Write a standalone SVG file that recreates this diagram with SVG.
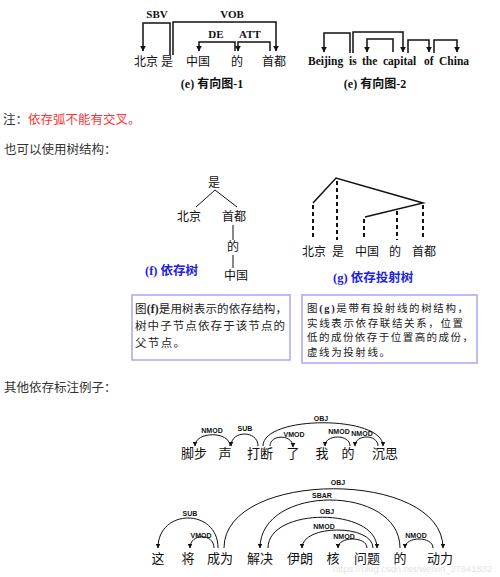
<svg xmlns="http://www.w3.org/2000/svg" width="500" height="577" viewBox="0 0 500 577">
<defs>
<marker id="ah" viewBox="0 0 10 10" refX="9" refY="5" markerWidth="6" markerHeight="6" markerUnits="userSpaceOnUse" orient="auto">
<path d="M0,0 L10,5 L0,10 z" fill="#111"/>
</marker>
<marker id="as" viewBox="0 0 10 10" refX="9" refY="5" markerWidth="5" markerHeight="5" markerUnits="userSpaceOnUse" orient="auto">
<path d="M0,0 L10,5 L0,10 z" fill="#111"/>
</marker>
</defs>
<style>
.prose{font-family:"Noto Sans CJK SC",sans-serif;font-size:12.5px;fill:#333}
.w{font-family:"Noto Sans CJK SC",sans-serif;font-size:12px;fill:#111}
.en{font-family:"Liberation Serif","Noto Sans CJK SC",serif;font-weight:bold;font-size:11.5px;fill:#111}
.lab{font-family:"Liberation Serif",serif;font-weight:bold;font-size:11px;fill:#111;text-anchor:middle}
.cap{font-family:"Liberation Serif","Noto Sans CJK SC",serif;font-weight:bold;font-size:12px;fill:#111;text-anchor:middle}
.blue{font-family:"Liberation Serif","Noto Sans CJK SC",serif;font-weight:bold;font-size:12.5px;fill:#2222dd}
.box{fill:none;stroke:#a8a8f0;stroke-width:1.5}
.bt{font-family:"Noto Sans CJK SC",sans-serif;font-size:11.5px;fill:#222}
.bt2{font-family:"Noto Sans CJK SC",sans-serif;font-size:10.5px;fill:#222}
.s{font-family:"Liberation Serif",serif;font-weight:bold}
.br{fill:none;stroke:#111;stroke-width:1.5}
.arc{fill:none;stroke:#111;stroke-width:1}
.sl{fill:none;stroke:#111;stroke-width:1.5}
.dl{fill:none;stroke:#111;stroke-width:2;stroke-dasharray:4,3}
.dep{font-family:"Liberation Sans",Arial,sans-serif;font-weight:bold;font-size:7px;fill:#111;text-anchor:middle}
.ex{font-family:"Noto Sans CJK SC",sans-serif;font-size:13px;fill:#111;text-anchor:middle}
.wm{font-family:"Liberation Sans",sans-serif;font-size:9.5px;fill:#e4e4e4}
</style>

<!-- Figure (e)-1 -->
<g id="fig-e1">
<text class="w" x="134" y="66">北京</text>
<text class="w" x="161" y="66">是</text>
<text class="w" x="186" y="66">中国</text>
<text class="w" x="231" y="66">的</text>
<text class="w" x="262" y="66">首都</text>
<text class="lab" x="157" y="18">SBV</text>
<text class="lab" x="232" y="18">VOB</text>
<text class="lab" x="216" y="38">DE</text>
<text class="lab" x="250" y="38">ATT</text>
<text class="cap" x="212" y="88">(e) 有向图-1</text>
</g>
<g id="edges-e1">
<path class="br" d="M170,55 V23 H143 V51" marker-end="url(#ah)"/>
<path class="br" d="M173,55 V22 H276 V51" marker-end="url(#ah)"/>
<path class="br" d="M235,51 V42 H199 V51" marker-end="url(#ah)"/>
<path class="br" d="M270,51 V42 H238 V51" marker-end="url(#ah)"/>
</g>

<!-- Figure (e)-2 -->
<g id="fig-e2">
<text class="en" x="308" y="65">Beijing</text>
<text class="en" x="349" y="65">is</text>
<text class="en" x="362" y="65">the</text>
<text class="en" x="383" y="65">capital</text>
<text class="en" x="424" y="65">of</text>
<text class="en" x="439" y="65">China</text>
<text class="cap" x="375" y="88">(e) 有向图-2</text>
</g>
<g id="edges-e2">
<path class="br" d="M350,53 V33 H324 V52" marker-end="url(#ah)"/>
<path class="br" d="M353,53 V32 H403 V52" marker-end="url(#ah)"/>
<path class="br" d="M393,52 V39 H367 V52" marker-end="url(#ah)"/>
<path class="br" d="M408,53 V40 H429 V52" marker-end="url(#ah)"/>
<path class="br" d="M434,53 V40 H457 V52" marker-end="url(#ah)"/>
</g>

<!-- Notes -->
<text class="prose" x="3" y="124">注：<tspan fill="#ff3333">依存弧不能有交叉。</tspan></text>
<text class="prose" x="4" y="154">也可以使用树结构：</text>

<!-- Tree (f) -->
<g id="tree-f">
<text class="w" x="214" y="187" text-anchor="middle" font-size="12.5">是</text>
<text class="w" x="189" y="221" text-anchor="middle" font-size="12.5">北京</text>
<text class="w" x="234" y="221" text-anchor="middle" font-size="12.5">首都</text>
<text class="w" x="233" y="251" text-anchor="middle" font-size="12.5">的</text>
<text class="w" x="236" y="280" text-anchor="middle" font-size="12.5">中国</text>
<path class="arc" d="M196,207 L215,190 L237,207 M233,225 V240 M233,255 V268" stroke-width="1.3"/>
<text class="blue" x="145" y="275">(f) 依存树</text>
</g>

<!-- Tree (g) -->
<g id="tree-g">
<text class="w" x="314" y="256" text-anchor="middle" font-size="12.5">北京</text>
<text class="w" x="338" y="256" text-anchor="middle" font-size="12.5">是</text>
<text class="w" x="367" y="256" text-anchor="middle" font-size="12.5">中国</text>
<text class="w" x="395" y="256" text-anchor="middle" font-size="12.5">的</text>
<text class="w" x="424" y="256" text-anchor="middle" font-size="12.5">首都</text>
<path class="sl" d="M313,203 L336,178 L423,203 L365,217"/>
<path class="dl" d="M313,205 V240 M337,181 V240 M364,219 V240 M397,211 V240 M423,205 V240"/>
<text class="blue" x="333" y="282">(g) 依存投射树</text>
</g>

<!-- Box f -->
<g id="box-f">
<rect class="box" x="132" y="295" width="158" height="65"/>
<text class="bt" x="135" y="313" textLength="152" lengthAdjust="spacing">图<tspan class="s">(f)</tspan>是用树表示的依存结构，</text>
<text class="bt" x="135" y="330" textLength="150" lengthAdjust="spacing">树中子节点依存于该节点的</text>
<text class="bt" x="135" y="347" textLength="50" lengthAdjust="spacing">父节点。</text>
</g>

<!-- Box g -->
<g id="box-g">
<rect class="box" x="302" y="295" width="175" height="68"/>
<text class="bt2" x="307" y="312" textLength="161" lengthAdjust="spacing">图<tspan class="s">(g)</tspan>是带有投射线的树结构，</text>
<text class="bt2" x="307" y="326.5" textLength="156" lengthAdjust="spacing">实线表示依存联结关系，位置</text>
<text class="bt2" x="307" y="341" textLength="166" lengthAdjust="spacing">低的成份依存于位置高的成份，</text>
<text class="bt2" x="307" y="355.5" textLength="83" lengthAdjust="spacing">虚线为投射线。</text>
</g>

<text class="prose" x="4" y="392">其他依存标注例子：</text>

<!-- Example 1 -->
<g id="ex1-words">
<text class="ex" x="194" y="458">脚步</text>
<text class="ex" x="225" y="458">声</text>
<text class="ex" x="260" y="458">打断</text>
<text class="ex" x="293" y="458">了</text>
<text class="ex" x="322" y="458">我</text>
<text class="ex" x="348" y="458">的</text>
<text class="ex" x="385" y="458">沉思</text>
</g>
<g id="ex1-edges">
<path class="arc" d="M230,446 C230,431 195,431 195,446" marker-end="url(#as)"/>
<path class="arc" d="M258,446 C258,430 231,430 231,446" marker-end="url(#as)"/>
<path class="arc" d="M270,446 C270,434 293,434 293,447" marker-end="url(#as)"/>
<path class="arc" d="M263,446 C263,415 383,415 383,446" marker-end="url(#as)"/>
<path class="arc" d="M350,446 C350,434 325,434 325,446" marker-end="url(#as)"/>
<path class="arc" d="M378,446 C378,434 355,434 355,446" marker-end="url(#as)"/>
<text class="dep" x="212" y="433">NMOD</text>
<text class="dep" x="245" y="431">SUB</text>
<text class="dep" x="294" y="437">VMOD</text>
<text class="dep" x="321" y="421">OBJ</text>
<text class="dep" x="339" y="434">NMOD</text>
<text class="dep" x="362" y="436">NMOD</text>
</g>

<!-- Example 2 -->
<g id="ex2-words">
<text class="ex" x="158" y="563">这</text>
<text class="ex" x="188" y="563">将</text>
<text class="ex" x="220" y="563">成为</text>
<text class="ex" x="260" y="563">解决</text>
<text class="ex" x="300" y="563">伊朗</text>
<text class="ex" x="333" y="563">核</text>
<text class="ex" x="367" y="563">问题</text>
<text class="ex" x="400" y="563">的</text>
<text class="ex" x="440" y="563">动力</text>
</g>
<g id="ex2-edges">
<path class="arc" d="M218,548 C218,508 158,508 158,548" marker-end="url(#as)"/>
<path class="arc" d="M214,548 C214,533 190,533 190,548" marker-end="url(#as)"/>
<path class="arc" d="M224,548 C224,469 443,469 443,548" marker-end="url(#as)"/>
<path class="arc" d="M400,548 C400,484 260,484 260,548" marker-end="url(#as)"/>
<path class="arc" d="M268,548 C268,507 377,507 377,548" marker-end="url(#as)"/>
<path class="arc" d="M373,548 C373,524 302,524 302,548" marker-end="url(#as)"/>
<path class="arc" d="M367,548 C367,536 338,536 338,548" marker-end="url(#as)"/>
<path class="arc" d="M433,548 C433,536 405,536 405,548" marker-end="url(#as)"/>
<text class="dep" x="190" y="516">SUB</text>
<text class="dep" x="201" y="538">VMOD</text>
<text class="dep" x="338" y="485">OBJ</text>
<text class="dep" x="322" y="498">SBAR</text>
<text class="dep" x="327" y="514">OBJ</text>
<text class="dep" x="324" y="529">NMOD</text>
<text class="dep" x="344" y="539">NMOD</text>
<text class="dep" x="416" y="538">NMOD</text>
</g>

<text class="wm" x="333" y="572" textLength="159" lengthAdjust="spacingAndGlyphs">https://blog.csdn.net/weixin_37641832</text>
</svg>
